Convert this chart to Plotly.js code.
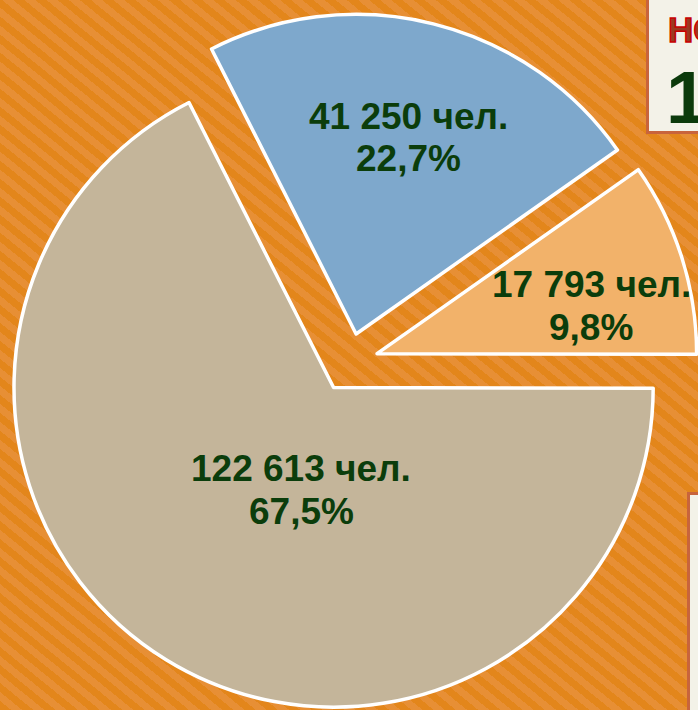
<!DOCTYPE html>
<html>
<head>
<meta charset="utf-8">
<script src="https://cdn.plot.ly/plotly-3.0.1.min.js"></script>
<style>
  html, body { margin:0; padding:0; width:698px; height:710px; overflow:hidden; }
  body {
    position:relative;
    background: repeating-linear-gradient(39deg, #E3861B 0px, #E3861B 7px, #E78F35 7px, #E78F35 14px);
  }
  #chart { position:absolute; left:0; top:0; width:698px; height:725px; }
  .box { position:absolute; background:#F3F2E8; border:3px solid #C8643C; box-sizing:border-box; }
  .t { position:absolute; font-family:'Liberation Sans', Arial, sans-serif; font-weight:bold; line-height:1; white-space:nowrap; }
</style>
</head>
<body>
<div id="chart"></div>
<div class="box" style="left:646px; top:-10px; width:120px; height:144px;"></div>
<div class="t" style="left:668px; top:12px; font-size:35px; color:#9A3A20; -webkit-text-stroke:1.5px #C80000;">НО</div>
<div class="t" style="left:666px; top:60px; font-size:75px; color:#0B3A0B;">1</div>
<div class="box" style="left:687px; top:492px; width:120px; height:260px;"></div>
<script>
const categories = ["Группа 1", "Группа 2", "Группа 3"];
const counts = [41250, 17793, 122613];
const countLabels = ["41 250 чел.", "17 793 чел.", "122 613 чел."];
const percentLabels = ["22,7%", "9,8%", "67,5%"];
const colors = ["#7EA8CC", "#F2B26A", "#C4B59A"];

const W = 698, H = 725;
// label anchor positions (pixels) for each slice's two text lines
const labelPos = [
  {x: 408, y1: 116, y2: 159},
  {x: 591, y1: 284, y2: 328},
  {x: 301, y1: 468, y2: 511}
];

const annotations = [];
categories.forEach((c, i) => {
  const p = labelPos[i];
  [[countLabels[i], p.y1], [percentLabels[i], p.y2]].forEach(([txt, py]) => {
    annotations.push({
      text: '<b>' + txt + '</b>', showarrow: false,
      xref: 'paper', yref: 'paper', x: p.x / W, y: 1 - py / H,
      xanchor: 'center', yanchor: 'middle',
      font: {family: "'Liberation Sans', Arial, sans-serif", size: 37, color: '#0B3D0B'}
    });
  });
});

const trace = {
  type: 'pie',
  labels: categories,
  values: counts,
  sort: false,
  direction: 'clockwise',
  rotation: -26.9,
  pull: [0.092, 0.092, 0.092],
  marker: {colors: colors, line: {color: '#FFFFFF', width: 3.5}},
  textinfo: 'none',
  hoverinfo: 'none',
  domain: {x: [0, 1], y: [0, 1]}
};

const layout = {
  width: W, height: H,
  margin: {l: 0, r: 0, t: 0, b: 0},
  paper_bgcolor: 'rgba(0,0,0,0)',
  plot_bgcolor: 'rgba(0,0,0,0)',
  showlegend: false,
  annotations: annotations
};

Plotly.newPlot('chart', [trace], layout, {displayModeBar: false, staticPlot: true});
</script>
</body>
</html>
